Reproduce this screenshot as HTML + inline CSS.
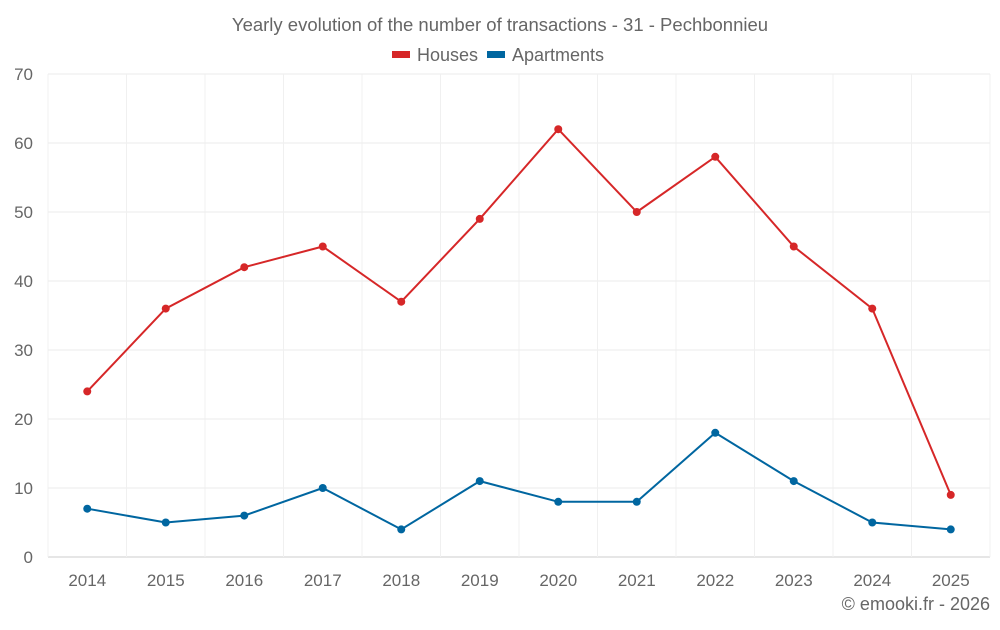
<!DOCTYPE html>
<html><head><meta charset="utf-8"><style>
body{margin:0;background:#fff;font-family:"Liberation Sans",sans-serif}
svg text{font-family:"Liberation Sans",sans-serif;fill:#666}
</style></head><body>
<svg id="chart" width="1000" height="625" viewBox="0 0 1000 625" xmlns="http://www.w3.org/2000/svg">
<text x="500" y="31" font-size="18.5" text-anchor="middle">Yearly evolution of the number of transactions - 31 - Pechbonnieu</text>
<g>
<g><rect x="392" y="51" width="18" height="7" fill="#d62728"/><text x="417" y="61" font-size="18">Houses</text></g>
<g><rect x="487" y="51" width="18" height="7" fill="#0066a0"/><text x="512" y="61" font-size="18">Apartments</text></g>
</g>
<g id="grid"></g>
<g id="axes"></g>
<g id="series"></g>
<text x="990" y="610" font-size="18" text-anchor="end">© emooki.fr - 2026</text>
</svg>
<script>
const categories=["2014","2015","2016","2017","2018","2019","2020","2021","2022","2023","2024","2025"];
const houses=[24,36,42,45,37,49,62,50,58,45,36,9];
const apartments=[7,5,6,10,4,11,8,8,18,11,5,4];
const yTicks=[0,10,20,30,40,50,60,70];
const NS="http://www.w3.org/2000/svg";
const L=48,R=990,T=74,B=557,yMax=70;
const bw=(R-L)/categories.length;
const x=i=>L+bw*(i+0.5);
const y=v=>B-(v/yMax)*(B-T);
function mk(tag,attrs,parent){const e=document.createElementNS(NS,tag);for(const k in attrs)e.setAttribute(k,attrs[k]);parent.appendChild(e);return e;}
const grid=document.getElementById('grid'),axes=document.getElementById('axes'),series=document.getElementById('series');
yTicks.forEach(t=>{
 const l=mk('line',{x1:L,x2:R,y1:y(t),y2:y(t),stroke:t===0?'#ccc':'#ebebeb','stroke-width':1},grid);
 
 
 const tx=mk('text',{x:33,y:y(t)+6,'font-size':17,'text-anchor':'end'},axes);
 tx.textContent=t;
 
 
});
for(let i=0;i<=categories.length;i++){
 const l=mk('line',{x1:L+bw*i,x2:L+bw*i,y1:T,y2:B,stroke:'#f0f0f0','stroke-width':1},grid);
 
 
}
categories.forEach((c,i)=>{
 const tx=mk('text',{x:x(i),y:586,'font-size':17,'text-anchor':'middle'},axes);
 tx.textContent=c;
 
 
});
function draw(vals,color,name){
 const p=mk('polyline',{points:vals.map((v,i)=>x(i)+','+y(v)).join(' '),fill:'none',stroke:color,'stroke-width':2},series);
 
 
 vals.forEach((v,i)=>{
  const c=mk('circle',{cx:x(i),cy:y(v),r:4,fill:color},series);
  
  
 });
}
draw(houses,'#d62728','houses');
draw(apartments,'#0066a0','apartments');
</script>
</body></html>
